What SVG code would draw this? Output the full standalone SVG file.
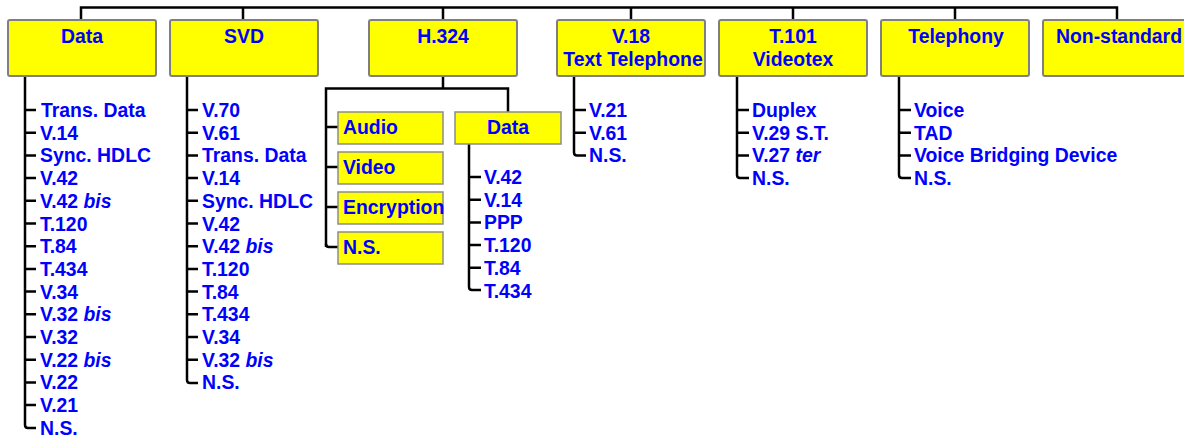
<svg xmlns="http://www.w3.org/2000/svg" width="1184" height="438" viewBox="0 0 1184 438">
<style>
.box{fill:#ffff00;stroke:#7f7f7f;stroke-width:2}
.sub{fill:#ffff00;stroke:#8c8c8c;stroke-width:1.5}
.t{font-family:"Liberation Sans",Arial,sans-serif;font-weight:bold;font-size:19.4px;fill:#0000ff}
.c{text-anchor:middle}
.i{font-style:italic}
.ln{fill:none;stroke:#000;stroke-width:2.5}
</style>
<rect width="1184" height="438" fill="#fff"/>
<g id="connectors" class="ln">
<path d="M81 20 V7.5 H1117 V20 M243 7.5 V20 M443 7.5 V20 M631 7.5 V20 M793 7.5 V20 M955 7.5 V20"/>
<path d="M25 76 V425 Q25 428 28 428 H36"/>
<path d="M25 110 H36 M25 132.7 H36 M25 155.4 H36 M25 178.1 H36 M25 200.8 H36 M25 223.5 H36 M25 246.2 H36 M25 268.9 H36 M25 291.6 H36 M25 314.3 H36 M25 337 H36 M25 359.7 H36 M25 382.4 H36 M25 405.1 H36"/>
<path d="M187 76 V380 Q187 383 190 383 H198"/>
<path d="M187 110 H198 M187 132.7 H198 M187 155.4 H198 M187 178.1 H198 M187 200.8 H198 M187 223.5 H198 M187 246.2 H198 M187 268.9 H198 M187 291.6 H198 M187 314.3 H198 M187 337 H198 M187 359.7 H198"/>
<path d="M443 76 V88.5 M326 247 V88.5 H508 V112"/>
<path d="M326 127 H338 M326 167 H338 M326 207 H338 M326 244 Q326 247 329 247 H338"/>
<path d="M469 144 V287 Q469 290 472 290 H481"/>
<path d="M469 177 H481 M469 199.7 H481 M469 222.4 H481 M469 245.1 H481 M469 267.8 H481"/>
<path d="M574 76 V152.4 Q574 155.4 577 155.4 H586 M574 110 H586 M574 132.7 H586"/>
<path d="M737 76 V175.1 Q737 178.1 740 178.1 H749 M737 110 H749 M737 132.7 H749 M737 155.4 H749"/>
<path d="M899 76 V175.1 Q899 178.1 902 178.1 H911 M899 110 H911 M899 132.7 H911 M899 155.4 H911"/>
</g>
<g id="data">
<rect class="box" x="8" y="20" width="148" height="56" rx="2"/>
<text class="t c" x="82" y="43">Data</text>
<text class="t" x="41" y="117">Trans. Data</text>
<text class="t" x="40" y="139.7">V.14</text>
<text class="t" x="40" y="162.4">Sync. HDLC</text>
<text class="t" x="40" y="185.1">V.42</text>
<text class="t" x="40" y="207.8">V.42 <tspan class="i">bis</tspan></text>
<text class="t" x="40" y="230.5">T.120</text>
<text class="t" x="40" y="253.2">T.84</text>
<text class="t" x="40" y="275.9">T.434</text>
<text class="t" x="40" y="298.6">V.34</text>
<text class="t" x="40" y="321.3">V.32 <tspan class="i">bis</tspan></text>
<text class="t" x="40" y="344">V.32</text>
<text class="t" x="40" y="366.7">V.22 <tspan class="i">bis</tspan></text>
<text class="t" x="40" y="389.4">V.22</text>
<text class="t" x="40" y="412.1">V.21</text>
<text class="t" x="40" y="434.8">N.S.</text>
</g>
<g id="svd">
<rect class="box" x="170" y="20" width="148" height="56" rx="2"/>
<text class="t c" x="244" y="43">SVD</text>
<text class="t" x="202" y="117">V.70</text>
<text class="t" x="202" y="139.7">V.61</text>
<text class="t" x="202" y="162.4">Trans. Data</text>
<text class="t" x="202" y="185.1">V.14</text>
<text class="t" x="202" y="207.8">Sync. HDLC</text>
<text class="t" x="202" y="230.5">V.42</text>
<text class="t" x="202" y="253.2">V.42 <tspan class="i">bis</tspan></text>
<text class="t" x="202" y="275.9">T.120</text>
<text class="t" x="202" y="298.6">T.84</text>
<text class="t" x="202" y="321.3">T.434</text>
<text class="t" x="202" y="344">V.34</text>
<text class="t" x="202" y="366.7">V.32 <tspan class="i">bis</tspan></text>
<text class="t" x="202" y="389.4">N.S.</text>
</g>
<g id="h324">
<rect class="box" x="369" y="20" width="148" height="56" rx="2"/>
<text class="t c" x="443" y="43">H.324</text>
</g>
<g id="h324-audio">
<rect class="sub" x="338" y="112" width="105" height="32"/>
<text class="t" x="343" y="134">Audio</text>
</g>
<g id="h324-video">
<rect class="sub" x="338" y="152" width="105" height="32"/>
<text class="t" x="343" y="174">Video</text>
</g>
<g id="h324-encryption">
<rect class="sub" x="338" y="192" width="105" height="32"/>
<text class="t" x="343" y="214">Encryption</text>
</g>
<g id="h324-ns">
<rect class="sub" x="338" y="232" width="105" height="32"/>
<text class="t" x="343" y="254">N.S.</text>
</g>
<g id="h324-data">
<rect class="sub" x="455" y="112" width="106" height="32"/>
<text class="t c" x="508" y="134">Data</text>
<text class="t" x="484" y="184">V.42</text>
<text class="t" x="484" y="206.7">V.14</text>
<text class="t" x="484" y="229.4">PPP</text>
<text class="t" x="484" y="252.1">T.120</text>
<text class="t" x="484" y="274.8">T.84</text>
<text class="t" x="484" y="297.5">T.434</text>
</g>
<g id="v18">
<rect class="box" x="557" y="20" width="148" height="56" rx="2"/>
<text class="t c" x="631" y="43">V.18</text>
<text class="t c" x="633" y="66">Text Telephone</text>
<text class="t" x="589" y="117">V.21</text>
<text class="t" x="589" y="139.7">V.61</text>
<text class="t" x="589" y="162.4">N.S.</text>
</g>
<g id="t101">
<rect class="box" x="719" y="20" width="148" height="56" rx="2"/>
<text class="t c" x="793" y="43">T.101</text>
<text class="t c" x="793" y="66">Videotex</text>
<text class="t" x="752" y="117">Duplex</text>
<text class="t" x="752" y="139.7">V.29 S.T.</text>
<text class="t" x="752" y="162.4">V.27 <tspan class="i">ter</tspan></text>
<text class="t" x="752" y="185.1">N.S.</text>
</g>
<g id="telephony">
<rect class="box" x="881" y="20" width="148" height="56" rx="2"/>
<text class="t c" x="956" y="43">Telephony</text>
<text class="t" x="914" y="117">Voice</text>
<text class="t" x="914" y="139.7">TAD</text>
<text class="t" x="914" y="162.4">Voice Bridging Device</text>
<text class="t" x="914" y="185.1">N.S.</text>
</g>
<g id="nonstandard">
<rect class="box" x="1043" y="20" width="148" height="56" rx="2"/>
<text class="t c" x="1119" y="43">Non-standard</text>
</g>
</svg>
